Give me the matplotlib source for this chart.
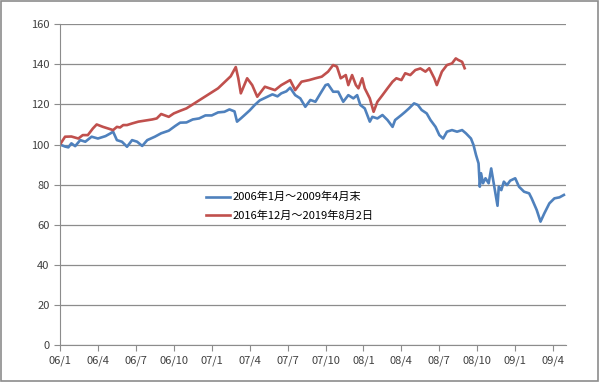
import numpy as np
import matplotlib
matplotlib.use('Agg')
from matplotlib import pyplot as plt
from matplotlib.patches import Rectangle

plt.rcParams['font.family'] = ['Noto Sans CJK JP', 'DejaVu Sans']

# months since the start of each period
blue_x = [0, 0.4, 0.66, 0.9, 1.2, 1.6, 2.0, 2.5, 3.0, 3.6, 4.0, 4.2, 4.5, 4.9, 5.3, 5.7, 6.1, 6.5, 6.9,
          7.5, 8.0, 8.6, 9.1, 9.5, 10.0, 10.5, 11.0, 11.5, 12.0, 12.5, 13.0, 13.4, 13.8, 14.0, 14.3,
          14.6, 15.0, 15.4, 15.8, 16.3, 16.8, 17.2, 17.5, 17.9, 18.2, 18.6, 19.0, 19.4, 19.8, 20.2,
          20.6, 21.0, 21.2, 21.6, 22.0, 22.4, 22.8, 23.2, 23.5, 23.75, 24.1, 24.5, 24.7, 25.1, 25.5,
          25.9, 26.3, 26.5, 27.0, 27.3, 27.6, 28.0, 28.3, 28.6, 29.0, 29.3, 29.7, 30.0, 30.3, 30.6,
          31.0, 31.4, 31.8, 32.1, 32.5, 32.7, 32.9, 33.1, 33.2, 33.3, 33.45, 33.65, 33.9, 34.1, 34.3,
          34.6, 34.7, 34.9, 35.1, 35.35, 35.6, 36.0, 36.3, 36.7, 37.1, 37.3, 37.7, 38.0, 38.3, 38.7,
          39.1, 39.5, 39.85]
blue_y = [100, 99, 98.6, 100.6, 99.2, 102.2, 101.4, 103.9, 103, 104.2, 105.6, 106.4, 102.2, 101.4, 98.9,
          102.2, 101.4, 99.3, 102.2, 103.9, 105.6, 106.9, 109.2, 110.9, 111, 112.5, 113, 114.5, 114.5,
          116, 116.3, 117.5, 116.5, 111.4, 113, 114.7, 117, 119.7, 122, 123.5, 125, 124, 125.5, 126.5,
          128.3, 124.6, 123, 118.8, 122.2, 121.3, 125.5, 129.6, 130, 126.3, 126.3, 121.3, 124.6, 123,
          124.6, 119.7, 118, 111.4, 113.8, 113, 114.7, 112.2, 108.8, 112.2, 114.7, 116.3, 118, 120.5,
          119.7, 117.2, 115.5, 112.2, 108.8, 104.7, 103, 106.4, 107.2, 106.4, 107.2, 105.6, 103, 99.8,
          94.8, 90.6, 79, 85.7, 80.7, 83.2, 80.7, 88.1, 80.7, 69.5, 79, 77.3, 81.5, 79.8, 82, 83.2, 79,
          76.5, 75.7, 73.2, 67.4, 61.6, 65.7, 70.7, 73.2, 73.7, 74.9]

red_x = [0, 0.4, 0.9, 1.45, 1.8, 2.2, 2.6, 2.9, 3.4, 3.8, 4.2, 4.5, 4.75, 5.0, 5.3, 5.7, 6.2, 6.7, 7.3,
         7.65, 8.0, 8.6, 9.0, 9.5, 10.0, 10.5, 11.0, 11.5, 12.0, 12.5, 13.0, 13.5, 13.9, 14.1, 14.3,
         14.8, 15.2, 15.6, 16.2, 17.0, 17.5, 18.2, 18.6, 19.1, 19.7, 20.2, 20.7, 21.2, 21.6, 21.9,
         22.2, 22.6, 22.8, 23.1, 23.4, 23.6, 23.9, 24.1, 24.5, 24.8, 25.1, 25.5, 25.9, 26.3, 26.6,
         27.0, 27.3, 27.7, 28.1, 28.5, 28.9, 29.2, 29.6, 29.8, 30.2, 30.6, 31.0, 31.3, 31.5, 31.8, 32.0]
red_y = [100, 103.9, 104, 103, 104.7, 104.7, 108, 110, 108.8, 108, 107.2, 108.8, 108.5, 109.7, 109.7,
         110.5, 111.4, 111.9, 112.5, 113, 115.2, 113.8, 115.5, 116.8, 118, 120, 122, 124, 126, 128, 131,
         134, 138.6, 133, 125.5, 133, 129.6, 123.8, 128.8, 127.1, 129.6, 132.1, 127.1, 131.3, 132.1, 133,
         133.8, 136.3, 139.6, 138.8, 133, 134.6, 129.6, 134.6, 129.6, 128, 133, 128, 123, 116.3, 121.3,
         124.6, 128, 131.3, 133, 132.1, 135.5, 134.6, 137.1, 137.9, 136.3, 138, 133, 129.6, 136.3, 139.6,
         140.4, 142.9, 142.1, 141.2, 138]

tick_pos = list(range(0, 40, 3))
tick_labels = ['06/1', '06/4', '06/7', '06/10', '07/1', '07/4', '07/7', '07/10',
               '08/1', '08/4', '08/7', '08/10', '09/1', '09/4']
labels = ['2006年1月～2009年4月末', '2016年12月～2019年8月2日']

fig = plt.figure(figsize=(6, 3.82), dpi=100)
ax = fig.add_axes([0.1, 0.096, 0.843, 0.841])

ax.plot(blue_x, blue_y, color='#4F81BD', lw=1.9, label=labels[0])
ax.plot(red_x, red_y, color='#C0504D', lw=1.9, label=labels[1])

ax.set_xlim(0, 40)
ax.set_ylim(0, 160)
ax.set_yticks(range(0, 161, 20))
ax.set_xticks(tick_pos)
ax.set_xticklabels(tick_labels)
ax.grid(axis='y', color='#8c8c8c', lw=0.9)
ax.set_axisbelow(True)
for s in ['top', 'right']:
    ax.spines[s].set_visible(False)
for s in ['left', 'bottom']:
    ax.spines[s].set_color('#8c8c8c')
ax.tick_params(colors='#8c8c8c', labelcolor='#404040', labelsize=8, length=4, direction='out')

ax.legend(loc='upper left', bbox_to_anchor=(196 / 600, 1 - 182 / 382), bbox_transform=fig.transFigure,
          frameon=False, fontsize=8, handlelength=2.2, handletextpad=0.2, labelspacing=0.7)

fig.patches.append(Rectangle((0.002, 0.003), 0.995, 0.994, transform=fig.transFigure,
                             fill=False, edgecolor='#8c8c8c', lw=1.2))

fig.savefig('out.png', dpi=100)
